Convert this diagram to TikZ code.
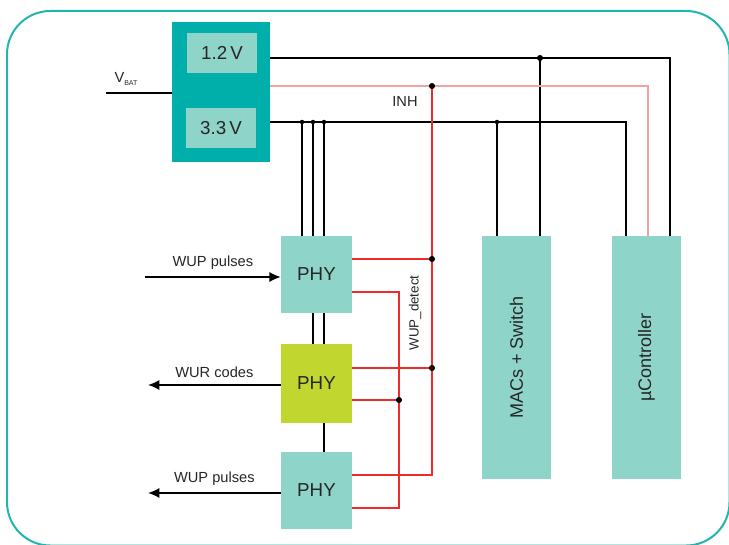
\documentclass[tikz,border=0pt]{standalone}
\usepackage{fontspec}
\setmainfont{Liberation Sans}
\usepackage{tikz}
\usetikzlibrary{arrows.meta, calc}

\definecolor{regteal}{HTML}{00AFAA}
\definecolor{boxteal}{HTML}{8FD4C9}
\definecolor{phylime}{HTML}{C1D72F}
\definecolor{sigred}{HTML}{EE2B2B}
\definecolor{inhpink}{HTML}{F4A3A3}
\definecolor{framecol}{HTML}{22B5AE}

\begin{document}
\begin{tikzpicture}[
  x=0.03cm, y=-0.03cm,
  regbox/.style={fill=regteal, minimum width=2.94cm, minimum height=4.2cm, inner sep=0pt},
  volt/.style={fill=boxteal, minimum width=2.1cm, minimum height=1.2cm, inner sep=0pt,
               font=\fontsize{16}{18}\selectfont, text=black!85},
  phy/.style={fill=boxteal, minimum width=2.13cm, minimum height=2.31cm, inner sep=0pt,
              font=\fontsize{16}{18}\selectfont, text=black!85},
  tall/.style={fill=boxteal, minimum width=2.07cm, minimum height=7.29cm, inner sep=0pt},
  lbl/.style={font=\fontsize{12.5}{14}\selectfont, text=black!85, inner sep=1pt},
  wire/.style={line width=1.05pt, black},
  sig/.style={line width=1.05pt, sigred},
  inh/.style={line width=1.05pt, inhpink},
  arr/.style={-{Latex[length=3.4mm, width=3mm]}, line width=1.2pt, black},
  dot/.style={fill=black},
]
  \useasboundingbox (0,0) rectangle (729,545);

  % ── Outer frame ──
  \draw[framecol, line width=1.7pt, rounded corners=1.3cm] (7,11) rectangle (729.5,545.5);

  % ── Regulator ──
  \node[regbox] (reg) at (221,92) {};
  \node[volt] (v12) at (222,53) {1.2\,V};
  \node[volt] (v33) at (221,128) {3.3\,V};

  % ── PHYs ──
  \node[phy] (phyA) at (316.5,274.5) {PHY};
  \node[phy, fill=phylime, minimum height=2.37cm] (phyB) at (316.5,383.5) {PHY};
  \node[phy] (phyC) at (316.5,490.5) {PHY};

  % ── MACs and controller ──
  \node[tall] (mac) at (516.5,357.5) {};
  \node[rotate=90, font=\fontsize{15.4}{17}\selectfont, text=black!85] (maclbl) at (mac.center) {MACs + Switch};
  \node[tall] (uc) at (646.5,357.5) {};
  \node[rotate=90, font=\fontsize{15.4}{17}\selectfont, text=black!85] (uclbl) at (uc.center) {µController};

  % ── Junctions ──
  \coordinate (vbat) at (106,93);
  \coordinate (j12) at (540,58);
  \coordinate (jinh) at (432,86);
  \coordinate (j33a) at (302,122);
  \coordinate (j33b) at (313,122);
  \coordinate (j33c) at (324,122);
  \coordinate (j33m) at (497,122);
  \coordinate (wdA) at (432,259);
  \coordinate (wdB) at (432,368);
  \coordinate (wuA) at (399,292);
  \coordinate (wuB) at (399,400);
  \coordinate (wuC) at (399,508);
  \coordinate (inA) at (145,277);
  \coordinate (outB) at (148,385);
  \coordinate (outC) at (148,493);

  % ══ Supply rails ══
  \draw[wire] (vbat) -- (reg.west |- vbat);
  \node[lbl] (vbatlbl) at (126,79) {V\raisebox{-0.4ex}{\fontsize{6}{7}\selectfont BAT}};

  \draw[wire] (reg.east |- j12) -| ($(uc.north)+(23.5,0)$);
  \draw[wire] (j12) -- (j12 |- mac.north);
  \draw[inh] (reg.east |- jinh) -| ($(uc.north)+(1.5,0)$);
  \draw[wire] (reg.east |- j33a) -| ($(uc.north)+(-20.5,0)$);
  \draw[wire] (j33m) -- (j33m |- mac.north);
  \foreach \j in {j33a, j33b, j33c}
    \draw[wire] (\j) -- (\j |- phyA.north);
  \node[lbl] (inhlbl) at (405,101) {INH};

  % PHY to PHY
  \draw[wire] ($(phyA.south)+(-3.5,0)$) -- ($(phyB.north)+(-3.5,0)$);
  \draw[wire] ($(phyA.south)+(7.5,0)$) -- ($(phyB.north)+(7.5,0)$);
  \draw[wire] ($(phyB.south)+(7.5,0)$) -- ($(phyC.north)+(7.5,0)$);

  % ══ Wake-up signals ══
  \draw[sig] (phyA.east |- wdA) -- (wdA);
  \draw[sig] (phyB.east |- wdB) -- (wdB);
  \draw[sig] (jinh) |- ($(phyC.east)+(0,-15.5)$);
  \draw[sig] (phyA.east |- wuA) -| (wuC) -- (phyC.east |- wuC);
  \draw[sig] (phyB.east |- wuB) -- (wuB);
  \node[lbl, rotate=90, font=\fontsize{11.4}{13}\selectfont] (detlbl) at (415,313) {WUP\_detect};

  % ── Dots ──
  \foreach \j in {j12, jinh, wdA, wdB, wuB}
    \fill[dot] (\j) circle (2.6pt);
  \foreach \j in {j33a, j33b, j33c, j33m}
    \fill[dot] (\j) circle (1.9pt);

  % ══ External ports ══
  \draw[arr] (inA) -- (phyA.west |- inA)
    node[midway, above=5pt, lbl] (inAlbl) {WUP pulses};
  \draw[arr] (phyB.west |- outB) -- (outB)
    node[midway, above=5pt, lbl] (outBlbl) {WUR codes};
  \draw[arr] (phyC.west |- outC) -- (outC)
    node[midway, above=5pt, lbl] (outClbl) {WUP pulses};

\end{tikzpicture}
\end{document}
